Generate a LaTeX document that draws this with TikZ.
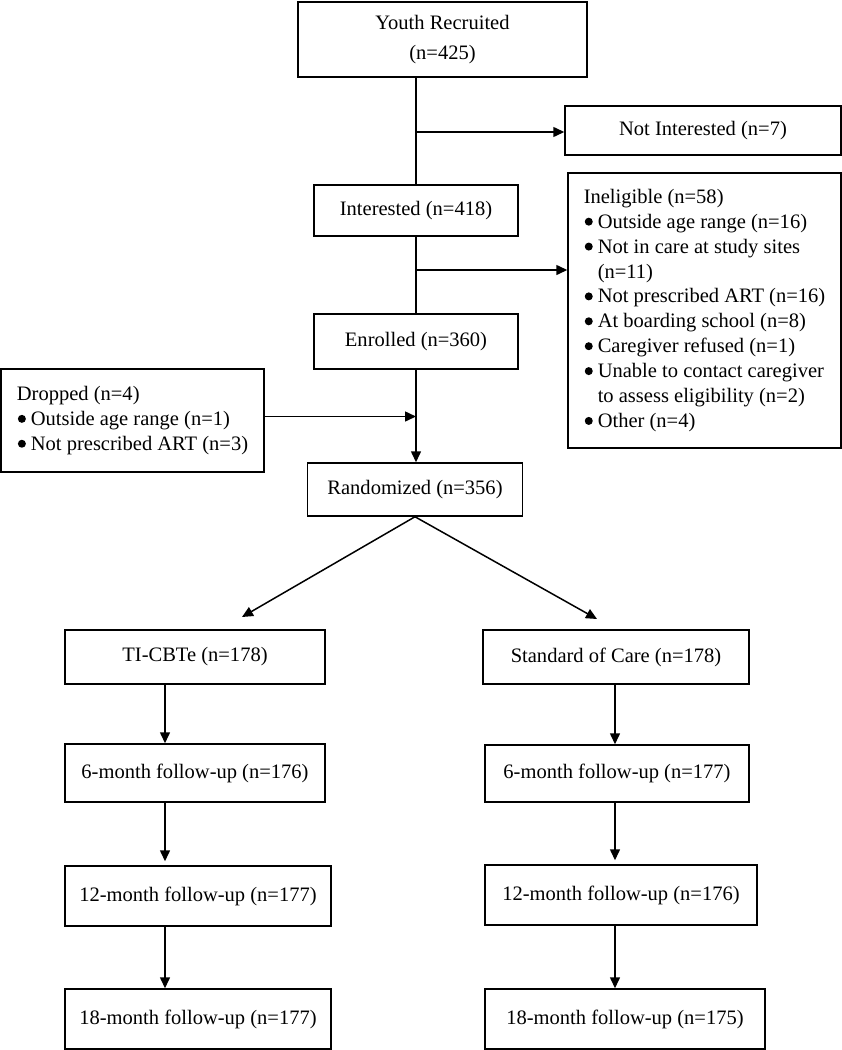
\documentclass[tikz,border=0pt]{standalone}
\usepackage{fontspec}
\setmainfont{Liberation Serif}
\usepackage{tikz}
\usetikzlibrary{arrows.meta}
\tikzset{
    box/.style 2 args={
        draw,
        line width=1.5bp,
        minimum width=#1,
        minimum height=#2,
        inner sep=0pt,
        align=center,
        font=\fontsize{20.6}{25}\selectfont
    },
    link/.style={line width=1.5bp},
    arr/.style={link, -{Triangle[length=11bp,width=10bp]}}
}
\newcommand{\bul}[1] {
	\makebox[14bp][l]{\hspace*{1bp}\tikz[baseline=-6.6bp] \fill (0bp,0bp) circle (4bp);}#1
}
\newcommand{\hang}[1] {
	\hspace*{14bp}#1
}

\begin{document}
\begin{tikzpicture}[x=1bp,y=-1bp]
		\useasboundingbox (0,0) rectangle (842,1050);

		% screening column
		\node[box={289bp}{75bp}] (recruited) at (442.5,39.5) {Youth Recruited\\[5bp](n=425)};
		\node[box={276bp}{49bp}] (notint) at (703,130.5) {Not Interested (n=7)};
		\node[box={204bp}{51bp}] (interested) at (416,210.5) {Interested (n=418)};
		\node[box={273bp}{275bp}, align=left] (inelig) at (704.5,310.5) {Ineligible (n=58)\\
			\bul{Outside age range (n=16)}\\
			\bul{Not in care at study sites}\\
			\hang{(n=11)}\\
			\bul{Not prescribed ART (n=16)}\\
			\bul{At boarding school (n=8)}\\
			\bul{Caregiver refused (n=1)}\\
			\bul{Unable to contact caregiver}\\
			\hang{to assess eligibility (n=2)}\\
			\bul{Other (n=4)}};
		\node[box={204bp}{55bp}] (enrolled) at (416,341.5) {Enrolled (n=360)};
		\node[box={263bp}{103bp}, align=left] (dropped) at (132.5,420.5) {Dropped (n=4)\\
			\bul{Outside age range (n=1)}\\
			\bul{Not prescribed ART (n=3)}};
		\node[box={215bp}{53bp}] (randomized) at (415,489.5) {Randomized (n=356)};

		\coordinate (split1) at (416,132);
		\coordinate (split2) at (416,270);
		\draw[link] (recruited.south -| interested.north) -- (interested.north);
		\draw[arr] (split1) -- (split1 -| notint.west);
		\draw[link] (interested.south) -- (enrolled.north);
		\draw[arr] (split2) -- (split2 -| inelig.west);
		\draw[arr] ([yshift=4bp]dropped.east) -- ([yshift=4bp]dropped.east -| enrolled.south);
		\draw[arr] (enrolled.south) -- (enrolled.south |- randomized.north);

		% TI-CBTe arm
		\node[box={260bp}{54bp}] (ticbte) at (195,657) {TI-CBTe (n=178)};
		\node[box={260bp}{58bp}] (sixL) at (195,773) {6-month follow-up (n=176)};
		\node[box={266bp}{60bp}] (twelveL) at (198,896) {12-month follow-up (n=177)};
		\node[box={266bp}{60bp}] (eighteenL) at (198,1019) {18-month follow-up (n=177)};

		% standard of care arm
		\node[box={266bp}{54bp}] (soc) at (616,657) {Standard of Care (n=178)};
		\node[box={264bp}{57bp}] (sixR) at (617,773.5) {6-month follow-up (n=177)};
		\node[box={272bp}{60bp}] (twelveR) at (621,895) {12-month follow-up (n=176)};
		\node[box={280bp}{60bp}] (eighteenR) at (625,1019) {18-month follow-up (n=175)};

		\coordinate (tipL) at (242,617);
		\coordinate (tipR) at (597,619);
		\coordinate (armL) at (165,0);
		\coordinate (armR) at (615,0);
		\draw[arr] (randomized.south) -- (tipL);
		\draw[arr] (randomized.south) -- (tipR);

		\draw[arr] (ticbte.south -| armL) -- (sixL.north -| armL);
		\draw[arr, shorten >=4bp] (sixL.south -| armL) -- (twelveL.north -| armL);
		\draw[arr] (twelveL.south -| armL) -- (eighteenL.north -| armL);
		\draw[arr] (soc.south -| armR) -- (sixR.north -| armR);
		\draw[arr, shorten >=4bp] (sixR.south -| armR) -- (twelveR.north -| armR);
		\draw[arr] (twelveR.south -| armR) -- (eighteenR.north -| armR);
	\end{tikzpicture}
\end{document}
